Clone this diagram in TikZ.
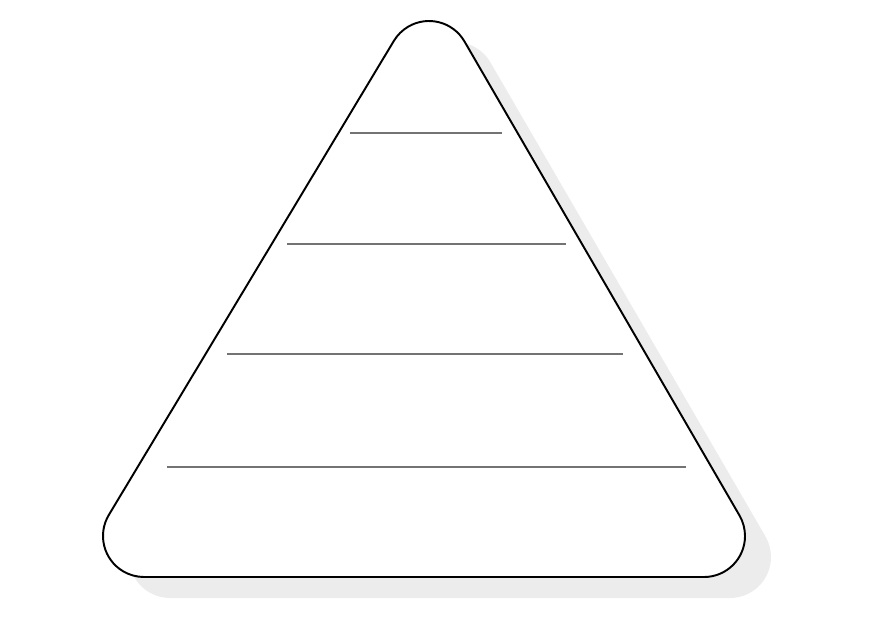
\documentclass[tikz,border=0pt]{standalone}
\usepackage{tikz}

\tikzset{
    pyramid/.style={line width=1.1pt, fill=white},
    shade/.style={fill=gray!15},
    level/.style={line width=0.9pt, black!55}
}

% outline of the pyramid: three corner arcs joined by the sides
\newcommand{\pyramidpath}{
    ([shift={(148.87:41)}]144,84) arc[start angle=148.87, end angle=270, radius=41]
    -- ([shift={(270:41)}]704,84) arc[start angle=270, end angle=390.29, radius=41]
    -- ([shift={(30.29:41)}]429,558) arc[start angle=30.29, end angle=148.87, radius=41]
    -- cycle}

\begin{document}
\begin{tikzpicture}[x=0.02cm, y=0.02cm]
            \useasboundingbox (0,0) rectangle (875,620);

            % shadow
            \begin{scope}[shift={(26,-21)}]
                \fill[shade] \pyramidpath;
            \end{scope}

            % pyramid
            \filldraw[pyramid] \pyramidpath;

            % levels
            \foreach \y/\a/\b in {487/350/502, 376/287/566, 266/227/623, 153/167/686}
                \draw[level] (\a,\y) -- (\b,\y);
\end{tikzpicture}
\end{document}
